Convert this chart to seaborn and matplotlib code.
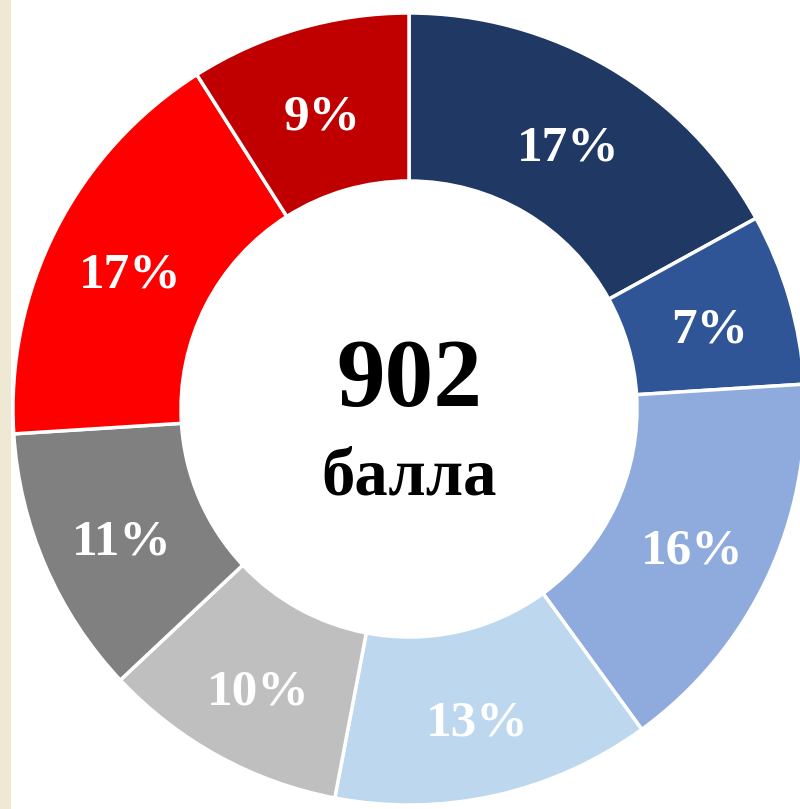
import matplotlib
matplotlib.use("Agg")
import matplotlib.pyplot as plt
import seaborn as sns
from matplotlib.patches import Rectangle

# shares of the 902 points, clockwise from the top
shares = [17, 7, 16, 13, 10, 11, 17, 9]
labels = ["17%", "7%", "16%", "13%", "10%", "11%", "17%", "9%"]
colors = ["#1F3864", "#2F5597", "#8FAADC", "#BDD7EE",
          "#BFBFBF", "#808080", "#FF0000", "#C00000"]
total_text = "902"
unit_text = "балла"

sns.set_theme(style="white")
plt.rcParams['font.family'] = ['Liberation Serif', 'DejaVu Serif']

fig = plt.figure(figsize=(8, 8.09), dpi=100)
fig.patch.set_facecolor("white")
# beige slide strip on the left
fig.patches.append(Rectangle((0, 0), 11 / 800, 1, transform=fig.transFigure,
                             facecolor="#EEE8D5", edgecolor="none", zorder=0))

ax = fig.add_axes([0, 0, 1, 1])

cx, cy, r_out, r_in = 409, 400, 396, 228
wedges, texts = ax.pie(
    shares, colors=sns.color_palette(colors), startangle=90, counterclock=False,
    center=(cx, cy), radius=r_out, labels=labels, labeldistance=0.79,
    wedgeprops=dict(width=r_out - r_in, edgecolor="white", linewidth=2.5),
    textprops=dict(color="white", fontsize=37, fontweight="bold",
                   ha="center", va="center"),
)
for t in texts:
    t.set_horizontalalignment("center")
    x, y = t.get_position()
    t.set_position((x, y - 9))  # nudge so glyphs sit mid-ring like the original

ax.set_xlim(0, 800)
ax.set_ylim(0, 809)
ax.set_aspect("equal")
ax.axis("off")

ax.text(cx, cy + 27, total_text, ha="center", va="center",
        fontsize=70, fontweight="bold", color="black")
ax.text(cx, cy - 69, unit_text, ha="center", va="center",
        fontsize=48, fontweight="bold", color="black")

fig.savefig("out.png", dpi=100)
